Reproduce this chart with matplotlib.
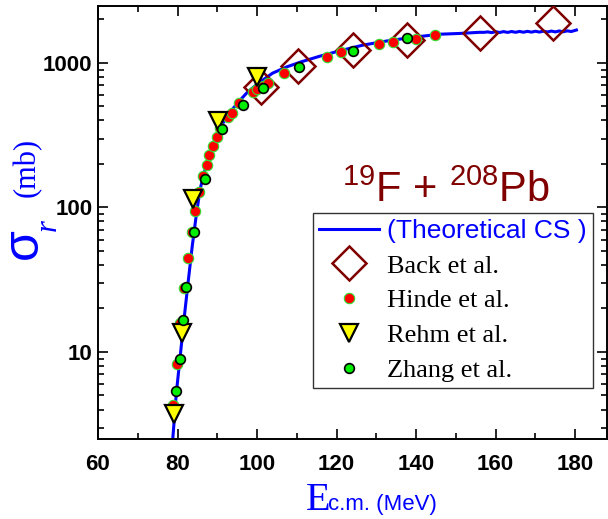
import matplotlib
matplotlib.use('Agg')
import matplotlib.pyplot as plt
from matplotlib.ticker import LogLocator, NullFormatter, MultipleLocator

# Theoretical cross section (curve)
theo_E = [78.8, 79.7, 80.7, 81.7, 82.7, 83.7, 84.7, 85.7, 87.3, 89.3, 91.3, 93.3,
          95.4, 97.4, 99.4, 101.4, 103.9, 107.5, 111.0, 115.6, 120.6, 126.7, 132.7,
          138.8, 145.8, 150.9, 156.0, 157, 158, 159, 160, 161, 162, 163, 164, 165,
          166, 167, 168, 169, 170, 171, 172, 173, 174, 175, 176, 177, 178, 179, 180.3]
theo_sig = [2.5, 5.2, 9.5, 17.5, 31, 54, 88, 135, 200, 290, 380, 460,
            540, 620, 690, 760, 850, 940, 1016, 1110, 1210, 1330, 1420,
            1500, 1580, 1600, 1630, 1628, 1640, 1622, 1645, 1625, 1648, 1627, 1650, 1630,
            1652, 1632, 1655, 1634, 1657, 1636, 1660, 1638, 1662, 1640, 1665, 1643, 1668, 1650, 1690]

# Back et al.
back_E = [100.9, 110.3, 124.2, 137.8, 156.0, 174.4]
back_sig = [683, 953, 1229, 1442, 1611, 1889]

# Hinde et al.
hinde_E = [78.9, 79.9, 80.7, 81.7, 82.7, 83.7, 84.5, 85.5, 86.3, 87.3, 88.0, 89.0,
           89.8, 90.8, 92.8, 93.6, 95.4, 98.9, 99.9, 101.4, 102.7, 106.7, 117.6,
           121.1, 130.7, 134.2, 140.0, 144.8]
hinde_sig = [4.3, 8.3, 15.8, 27.6, 44.5, 68, 95, 127, 164, 198, 232, 268,
             309, 356, 425, 452, 529, 631, 662, 693, 728, 853, 1100,
             1191, 1352, 1396, 1465, 1560]

# Rehm et al.
rehm_E = [79.0, 81.0, 84.0, 90.1, 99.9]
rehm_sig = [3.7, 13.5, 115, 398, 800]

# Zhang et al.
zhang_E = [79.7, 80.7, 81.5, 82.2, 84.2, 86.8, 91.3, 96.4, 101.4, 110.5, 124.2, 137.8]
zhang_sig = [5.4, 9.0, 16.6, 28.1, 68, 158, 351, 513, 673, 938, 1210, 1487]

fig = plt.figure(figsize=(6.08, 5.19), dpi=100)
ax = fig.add_axes([98 / 608, 1 - 439 / 519, 509 / 608, 433 / 519])

ax.plot(theo_E, theo_sig, color='#0000ff', lw=2.2, label='(Theoretical CS )', zorder=2)
ax.plot(back_E, back_sig, ls='none', marker='D', ms=17, mfc='none', mec='#800000',
        mew=1.8, label='Back et al.', zorder=3)
ax.plot(hinde_E, hinde_sig, ls='none', marker='o', ms=7.5, mfc='#ff0000', mec='#33dd33',
        mew=0.8, label='Hinde et al.', zorder=4)
ax.plot(rehm_E, rehm_sig, ls='none', marker='v', ms=13, mfc='#ffff00', mec='black',
        mew=1.6, label='Rehm et al.', zorder=5)
ax.plot(zhang_E, zhang_sig, ls='none', marker='o', ms=7, mfc='#00ee00', mec='black',
        mew=1.2, label='Zhang et al.', zorder=6)

ax.set_yscale('log')
ax.set_xlim(60, 188)
ax.set_ylim(2.5, 2478)
ax.xaxis.set_major_locator(MultipleLocator(20))
ax.xaxis.set_minor_locator(MultipleLocator(10))
ax.yaxis.set_minor_locator(LogLocator(base=10, subs=range(2, 10)))
ax.yaxis.set_minor_formatter(NullFormatter())
ax.set_yticks([10, 100, 1000])
ax.set_yticklabels(['10', '100', '1000'])

ax.tick_params(which='both', direction='in', top=True, right=True, width=1.2)
ax.tick_params(which='major', length=7)
ax.tick_params(which='minor', length=4)
ax.tick_params(axis='x', which='major', pad=11)
ax.tick_params(axis='y', which='major', pad=4)
for lab in ax.get_xticklabels() + ax.get_yticklabels():
    lab.set_fontfamily('Liberation Sans')
    lab.set_fontweight('bold')
    lab.set_fontsize(16)
for sp in ax.spines.values():
    sp.set_linewidth(1.4)

leg = ax.legend(loc='upper left', bbox_to_anchor=(0.422, 0.522), borderaxespad=0,
                prop={'family': 'Liberation Serif', 'size': 19}, frameon=True,
                fancybox=False, edgecolor='#333333', framealpha=1,
                handlelength=2.3, handletextpad=0.3, labelspacing=0.43,
                borderpad=0.22, numpoints=1)
leg.get_frame().set_linewidth(1.0)
t0 = leg.get_texts()[0]
t0.set_fontfamily('Liberation Sans')
t0.set_color('#0000ff')

# reaction label
fig.text(342 / 608, 1 - 202 / 519, r'$^{\mathregular{19}}$F + $^{\mathregular{208}}$Pb',
         fontsize=30, color='#800000', family='Liberation Sans',
         ha='left', va='baseline')

# y label pieces
fig.text(24 / 608, 1 - 244 / 519, '\u03c3', fontsize=36, color='#0000ff',
         family='Liberation Sans', rotation=90, ha='center', va='center')
fig.text(48 / 608, 1 - 225 / 519, 'r', fontsize=22, color='#0000ff',
         family='Liberation Serif', style='italic', rotation=90, ha='center', va='center')
fig.text(27 / 608, 1 - 167 / 519, '(mb)', fontsize=22, color='#0000ff',
         family='Liberation Serif', rotation=90, ha='center', va='center')

# x label pieces
fig.text(306 / 608, 1 - 510 / 519, 'E', fontsize=29, color='#0000ff',
         family='Liberation Serif', ha='left', va='baseline')
fig.text(328 / 608, 1 - 510 / 519, 'c.m. (MeV)', fontsize=16, color='#0000ff',
         family='Liberation Sans', ha='left', va='baseline')

fig.savefig('out.png', dpi=100)
